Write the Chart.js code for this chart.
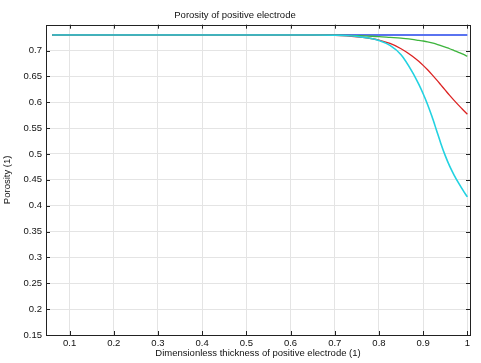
<!DOCTYPE html>
<html>
<head>
<meta charset="utf-8">
<script src="https://cdn.jsdelivr.net/npm/chart.js@4/dist/chart.umd.min.js"></script>
<style>
html,body{margin:0;padding:0;background:#fff;}
#wrap{width:481px;height:363px;position:relative;}
</style>
</head>
<body>
<div id="wrap"><canvas id="c" width="481" height="363"></canvas></div>
<script>
const xValues     = [0.0606, 0.1, 0.2, 0.3, 0.4, 0.5, 0.6, 0.65, 0.7, 0.75, 0.775, 0.8, 0.825, 0.85, 0.875, 0.89, 0.9, 0.91, 0.92, 0.93, 0.94, 0.95, 0.96, 0.97, 0.98, 0.99, 1.0];
const blueSeries  = [0.73, 0.73, 0.73, 0.73, 0.73, 0.73, 0.73, 0.73, 0.73, 0.73, 0.73, 0.73, 0.73, 0.73, 0.73, 0.73, 0.73, 0.73, 0.73, 0.73, 0.73, 0.73, 0.73, 0.73, 0.73, 0.73, 0.73];
const greenSeries = [0.73, 0.73, 0.73, 0.73, 0.73, 0.73, 0.73, 0.73, 0.7298, 0.729, 0.728, 0.727, 0.7255, 0.724, 0.7215, 0.7197, 0.7185, 0.717, 0.715, 0.7125, 0.7095, 0.7065, 0.7035, 0.7, 0.6965, 0.693, 0.689];
const redSeries   = [0.73, 0.73, 0.73, 0.73, 0.73, 0.73, 0.73, 0.73, 0.7293, 0.7267, 0.7243, 0.7203, 0.7137, 0.7036, 0.6896, 0.6792, 0.6714, 0.6628, 0.6535, 0.6437, 0.6336, 0.6234, 0.6133, 0.6037, 0.5945, 0.5856, 0.577];
const cyanSeries  = [0.73, 0.73, 0.73, 0.73, 0.73, 0.73, 0.73, 0.73, 0.7296, 0.7275, 0.7245, 0.7195, 0.710, 0.692, 0.6594, 0.635, 0.6165, 0.5958, 0.5723, 0.5465, 0.5205, 0.4968, 0.4765, 0.4593, 0.444, 0.430, 0.417];
const xTickValues = [0.1, 0.2, 0.3, 0.4, 0.5, 0.6, 0.7, 0.8, 0.9, 1];
const yTickValues = [0.15, 0.2, 0.25, 0.3, 0.35, 0.4, 0.45, 0.5, 0.55, 0.6, 0.65, 0.7];

const FONT = "'Liberation Sans', Arial, sans-serif";

function pts(xs, ys){ return xs.map((x,i)=>({x:x, y:ys[i]})); }

const frameAndTicks = {
  id: 'frameAndTicks',
  afterDraw(chart){
    const ctx = chart.ctx, a = chart.chartArea;
    const xs = chart.scales.x, ys = chart.scales.y;
    ctx.save();
    ctx.strokeStyle = '#222';
    ctx.lineWidth = 1;
    ctx.beginPath();
    xs.ticks.forEach(t=>{
      const px = Math.round(xs.getPixelForValue(t.value)) + 0.5;
      ctx.moveTo(px, a.top); ctx.lineTo(px, a.top + 4);
      ctx.moveTo(px, a.bottom); ctx.lineTo(px, a.bottom - 4);
    });
    ys.ticks.forEach(t=>{
      const py = Math.round(ys.getPixelForValue(t.value)) + 0.5;
      ctx.moveTo(a.left, py); ctx.lineTo(a.left + 4, py);
      ctx.moveTo(a.right, py); ctx.lineTo(a.right - 4, py);
    });
    ctx.stroke();
    ctx.strokeRect(Math.round(a.left)+0.5, Math.round(a.top)+0.5, Math.round(a.right - a.left), Math.round(a.bottom - a.top));
    ctx.restore();
  }
};

// Dataset index 0 is drawn last (on top): cyan, red, green, blue
new Chart(document.getElementById('c'), {
  type: 'scatter',
  data: {
    datasets: [
      {data: pts(xValues, cyanSeries),  borderColor: 'rgb(35,210,225)', borderWidth: 1.6},
      {data: pts(xValues, redSeries),   borderColor: 'rgb(220,35,35)',  borderWidth: 1.3},
      {data: pts(xValues, greenSeries), borderColor: 'rgb(60,180,60)',  borderWidth: 1.3},
      {data: pts(xValues, blueSeries),  borderColor: 'rgb(90,115,240)', borderWidth: 2}
    ].map(d => Object.assign(d, {showLine: true, pointRadius: 0, fill: false, cubicInterpolationMode: 'monotone'}))
  },
  options: {
    responsive: false,
    animation: false,
    layout: {padding: {left: 0, right: 11, top: 0, bottom: 0}},
    plugins: {
      legend: {display: false},
      tooltip: {enabled: false},
      title: {
        display: true,
        text: 'Porosity of positive electrode',
        color: '#111',
        font: {family: FONT, size: 9.5, weight: 'normal'},
        padding: {top: 10, bottom: 3.3}
      }
    },
    scales: {
      x: {
        type: 'linear',
        min: 0.0467, max: 1.006,
        afterBuildTicks(s){ s.ticks = xTickValues.map(v=>({value:v})); },
        afterFit(s){ s.height = 28; },
        grid: {color: '#e4e4e4', drawTicks: false},
        border: {display: false},
        ticks: {
          color: '#111', padding: 3,
          font: {family: FONT, size: 9.5},
          maxRotation: 0, autoSkip: false,
          callback: v => String(Math.round(v*10)/10)
        },
        title: {
          display: true,
          text: 'Dimensionless thickness of positive electrode (1)',
          color: '#111',
          font: {family: FONT, size: 9.5},
          padding: {top: 0, bottom: 4}
        }
      },
      y: {
        type: 'linear',
        min: 0.15, max: 0.75,
        afterBuildTicks(s){ s.ticks = yTickValues.map(v=>({value:v})); },
        afterFit(s){ s.width = 46; },
        grid: {color: '#e4e4e4', drawTicks: false},
        border: {display: false},
        ticks: {
          color: '#111', padding: 4,
          font: {family: FONT, size: 9.5},
          autoSkip: false,
          callback: v => String(Math.round(v*100)/100)
        },
        title: {
          display: true,
          text: 'Porosity (1)',
          color: '#111',
          font: {family: FONT, size: 9.5},
          padding: {top: 2, bottom: 0}
        }
      }
    }
  },
  plugins: [frameAndTicks]
});
</script>
</body>
</html>
